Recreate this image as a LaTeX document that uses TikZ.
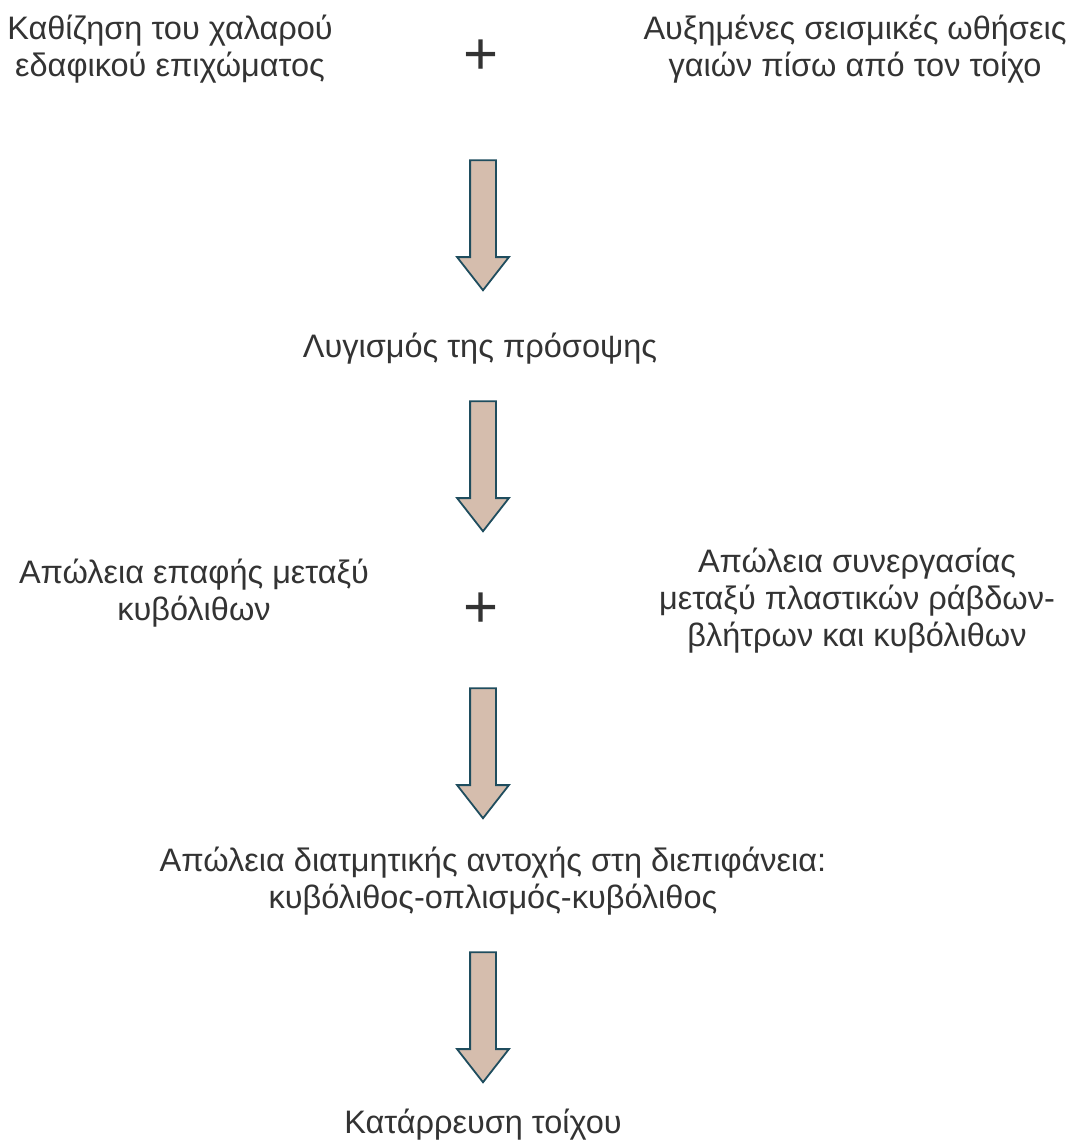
\documentclass[tikz,border=0pt]{standalone}
\usepackage{fontspec}
\setmainfont{Liberation Sans}
\usepackage{tikz}
\usetikzlibrary{shapes.arrows}

\definecolor{textgray}{HTML}{333333}
\definecolor{arrowfill}{HTML}{D5BDAD}
\definecolor{arrowline}{HTML}{1F4D5E}

\begin{document}
\begin{tikzpicture}[x=1pt,y=-1pt,
						cause/.style={text=textgray,align=center,font=\fontsize{32.5}{37}\selectfont},
						plus/.style={text=textgray,font=\fontsize{60}{62}\selectfont,inner sep=0pt},
						bigarrow/.style={single arrow,draw=arrowline,fill=arrowfill,line width=1.8pt,
							shape border rotate=270,minimum height=130,inner sep=12pt,
							single arrow head extend=13,single arrow tip angle=76}]

						\useasboundingbox (0,0) rectangle (1070,1140);

						%%% Top row: two causes
						\node at (170, 49) [cause] (settle) {Καθίζηση του χαλαρού\\εδαφικού επιχώματος};
						\node at (481, 57) [plus] (plusA) {+};
						\node at (855, 49) [cause] (thrust) {Αυξημένες σεισμικές ωθήσεις\\γαιών πίσω από τον τοίχο};
						\node at (483, 217) [bigarrow] (arrowA) {};

						%%% Facing
						\node at (480, 349) [cause] (buckle) {Λυγισμός της πρόσοψης};
						\node at (483, 458) [bigarrow] (arrowB) {};

						%%% Middle row: two effects
						\node at (194, 593) [cause] (contact) {Απώλεια επαφής μεταξύ\\κυβόλιθων};
						\node at (481, 610) [plus] (plusB) {+};
						\node at (857, 601) [cause] (bond) {Απώλεια συνεργασίας\\μεταξύ πλαστικών ράβδων-\\βλήτρων και κυβόλιθων};
						\node at (483, 745) [bigarrow] (arrowC) {};

						%%% Interface shear
						\node at (493, 881) [cause] (shear) {Απώλεια διατμητικής αντοχής στη διεπιφάνεια:\\κυβόλιθος-οπλισμός-κυβόλιθος};
						\node at (483, 1009) [bigarrow] (arrowD) {};

						%%% Collapse
						\node at (483, 1125) [cause] (collapse) {Κατάρρευση τοίχου};
					\end{tikzpicture}
\end{document}
